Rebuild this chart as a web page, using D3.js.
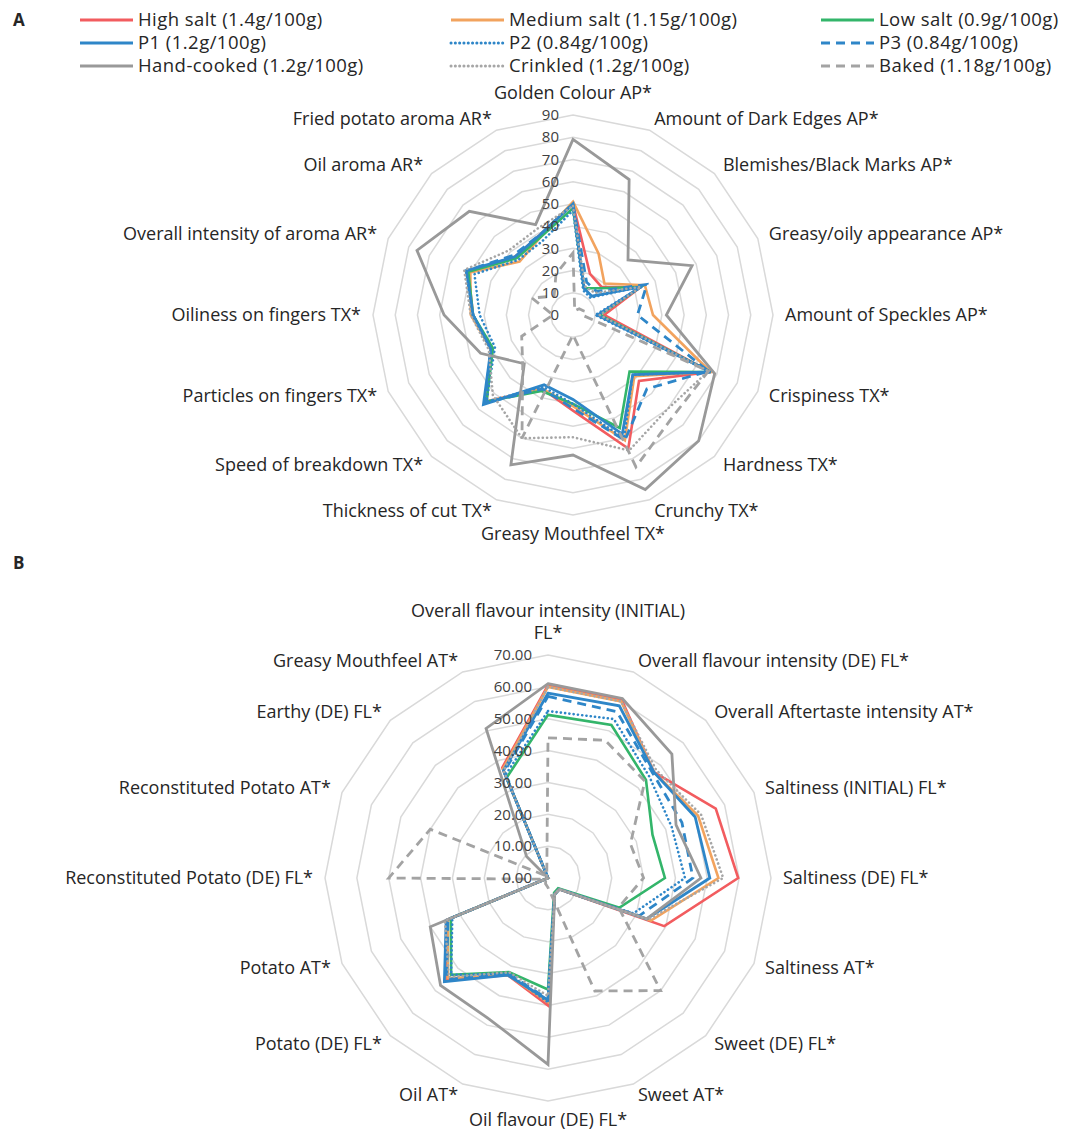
<!DOCTYPE html>
<html>
<head>
<meta charset="utf-8">
<script src="https://cdn.jsdelivr.net/npm/d3@7/dist/d3.min.js"></script>
<style>
  html, body { margin: 0; padding: 0; background: #fff; }
  svg { display: block; font-family: "Open Sans", "Noto Sans", sans-serif; }
</style>
</head>
<body>
<svg id="chart" width="1077" height="1131"></svg>
<script>
// ---- Panel A: appearance, texture and aroma attributes ----
const attributesA = [
  "Golden Colour AP*", "Amount of Dark Edges AP*", "Blemishes/Black Marks AP*",
  "Greasy/oily appearance AP*", "Amount of Speckles AP*", "Crispiness TX*",
  "Hardness TX*", "Crunchy TX*", "Greasy Mouthfeel TX*", "Thickness of cut TX*",
  "Speed of breakdown TX*", "Particles on fingers TX*", "Oiliness on fingers TX*",
  "Overall intensity of aroma AR*", "Oil aroma AR*", "Fried potato aroma AR*"
];
const ticksA = [0, 10, 20, 30, 40, 50, 60, 70, 80, 90];

const highSaltA   = [50, 20, 18, 33, 14, 67, 42, 65, 43, 36, 55, 40, 45, 51, 37, 39];
const mediumSaltA = [51, 30, 20, 35, 36, 67, 39, 61, 41, 36, 55, 40, 46, 50, 34, 38];
const lowSaltA    = [48, 13, 17, 33, 12, 67, 36, 55, 40, 37, 55, 39, 45, 51, 36, 38];
const p1A         = [50, 13, 12, 33, 11, 67, 38, 58, 38, 34, 57, 40, 45, 52, 37, 39];
const p2A         = [47, 12, 11, 34, 10, 67, 38, 60, 40, 35, 55, 38, 42, 48, 35, 36];
const p3A         = [50, 16, 15, 36, 29, 66, 47, 61, 42, 36, 56, 40, 45, 52, 38, 39];
const handCookedA = [79, 66, 35, 58, 42, 69, 80, 85, 63, 73, 31, 45, 58, 76, 66, 44];
const crinkledA   = [49, 14, 14, 33, 12, 66, 60, 66, 55, 60, 51, 41, 46, 53, 41, 42];
const bakedA      = [28, 2, 4, 5, 4, 66, 64, 74, 9, 60, 32, 25, 9, 20, 12, 20];

// ---- Panel B: flavour and aftertaste attributes ----
const attributesB = [
  "Overall flavour intensity (INITIAL)\nFL*", "Overall flavour intensity (DE) FL*",
  "Overall Aftertaste intensity AT*", "Saltiness (INITIAL) FL*", "Saltiness (DE) FL*",
  "Saltiness AT*", "Sweet (DE) FL*", "Sweet AT*", "Oil flavour (DE) FL*", "Oil AT*",
  "Potato (DE) FL*", "Potato AT*", "Reconstituted Potato (DE) FL*",
  "Reconstituted Potato AT*", "Earthy (DE) FL*", "Greasy Mouthfeel AT*"
];
const ticksB = [0, 10, 20, 30, 40, 50, 60, 70];

const highSaltB   = [60.5, 60.5, 47, 57, 59.7, 39.5, 5, 5.5, 40, 33, 45, 34.5, 0, 0, 0, 37.5];
const mediumSaltB = [60, 60, 47, 51, 53.5, 35, 5, 5.5, 39, 33, 44.5, 34, 0, 0, 0, 37];
const lowSaltB    = [51.2, 52, 43.5, 35.5, 36.7, 24.3, 4.5, 5, 35, 32, 43, 33, 0, 0, 0, 34];
const p1B         = [58, 58.5, 47, 50, 50.8, 33.5, 5, 5.5, 38.3, 33, 46, 34.6, 0, 0, 0, 36.5];
const p2B         = [52.4, 54, 45, 42, 43, 29, 5, 5.5, 39, 32.5, 43, 32.5, 0, 0, 0, 35];
const p3B         = [57, 56.5, 46.5, 45.5, 45.5, 31, 5, 5.5, 38, 32.5, 45, 34, 0, 0, 0, 36];
const handCookedB = [61, 61, 55, 43.5, 48, 33.5, 5, 5.5, 58.5, 48, 47.7, 40, 0, 0, 9.5, 50.8];
const crinkledB   = [60, 60, 48, 52, 55, 34, 5, 5.5, 37, 32, 44, 35, 0, 0, 0, 36.5];
const bakedB      = [44, 46.8, 43, 28, 30, 24, 50, 38.4, 3, 2, 1, 1, 50, 40, 1, 1];

// ---- Series names (legend order) ----
const seriesNames = [
  "High salt (1.4g/100g)", "Medium salt (1.15g/100g)", "Low salt (0.9g/100g)",
  "P1 (1.2g/100g)", "P2 (0.84g/100g)", "P3 (0.84g/100g)",
  "Hand-cooked (1.2g/100g)", "Crinkled (1.2g/100g)", "Baked (1.18g/100g)"
];

// line styles per series
const styles = [
  { color: "#F25C5F", dash: null, width: 2.6, cap: "butt" },
  { color: "#F2A35E", dash: null, width: 2.6, cap: "butt" },
  { color: "#33B56A", dash: null, width: 2.6, cap: "butt" },
  { color: "#2E86C8", dash: null, width: 2.8, cap: "butt" },
  { color: "#2E86C8", dash: "0.1,4.2", width: 2.6, cap: "round" },
  { color: "#2E86C8", dash: "9,6", width: 2.8, cap: "butt" },
  { color: "#999999", dash: null, width: 2.8, cap: "butt" },
  { color: "#A6A6A6", dash: "0.1,4.2", width: 2.6, cap: "round" },
  { color: "#A3A3A3", dash: "9,6", width: 2.8, cap: "butt" }
];

const svg = d3.select("#chart");
const textColor = "#262626";

// ---- Legend ----
const legendCols = [80, 451, 821];
const legendRows = [20, 43, 66];
const legend = svg.append("g");
seriesNames.forEach((name, i) => {
  const x = legendCols[i % 3], y = legendRows[Math.floor(i / 3)];
  const st = styles[i];
  legend.append("line")
    .attr("x1", x).attr("x2", x + 53).attr("y1", y).attr("y2", y)
    .attr("stroke", st.color).attr("stroke-width", 3)
    .attr("stroke-dasharray", st.dash).attr("stroke-linecap", st.cap);
  legend.append("text")
    .attr("x", x + 58).attr("y", y).attr("dy", "0.35em")
    .attr("font-size", 18.5).attr("letter-spacing", 0.45).attr("fill", textColor)
    .text(name);
});

// panel letters
svg.append("text").attr("x", 13).attr("y", 26).attr("font-size", 17)
  .attr("font-weight", "bold").attr("fill", textColor).text("A");
svg.append("text").attr("x", 13).attr("y", 569).attr("font-size", 17)
  .attr("font-weight", "bold").attr("fill", textColor).text("B");

function radar(opts) {
  const { cx, cy, radius, max, ticks, axes, series, tickFmt, tickOffset } = opts;
  const n = axes.length;
  const g = svg.append("g").attr("transform", `translate(${cx},${cy})`);
  const r = d3.scaleLinear().domain([0, max]).range([0, radius]);
  const angle = i => (i / n) * 2 * Math.PI;

  // polygon gridlines
  const ring = d3.lineRadial().angle((d, i) => angle(i)).radius(d => r(d))
    .curve(d3.curveLinearClosed);
  ticks.filter(t => t > 0).forEach(t => {
    g.append("path").attr("d", ring(d3.range(n).map(() => t)))
      .attr("fill", "none").attr("stroke", "#D9D9D9").attr("stroke-width", 1.5);
  });

  // series lines
  const line = d3.lineRadial().angle((d, i) => angle(i)).radius(d => r(d))
    .curve(d3.curveLinearClosed);
  series.forEach((vals, i) => {
    const st = styles[i];
    g.append("path").attr("d", line(vals))
      .attr("fill", "none").attr("stroke", st.color)
      .attr("stroke-width", st.width)
      .attr("stroke-dasharray", st.dash)
      .attr("stroke-linecap", st.cap)
      .attr("stroke-linejoin", "miter");
  });

  // tick labels
  ticks.forEach(t => {
    g.append("text").attr("x", -tickOffset).attr("y", -r(t)).attr("dy", "0.35em")
      .attr("text-anchor", "end").attr("font-size", 15).attr("fill", "#404040")
      .text(tickFmt(t));
  });

  // category labels (multi-line labels become stacked text rows)
  axes.forEach((label, i) => {
    const a = angle(i);
    const rr = radius + 12;
    const x = rr * Math.sin(a), y = -rr * Math.cos(a);
    const s = Math.sin(a), c = Math.cos(a);
    const anchor = Math.abs(s) < 0.01 ? "middle" : (s > 0 ? "start" : "end");
    const lines = label.split("\n");
    const lh = 22;
    let y0;
    if (c > 0.99) y0 = y - (lines.length - 1) * lh - 4;
    else if (c < -0.99) y0 = y + 13;
    else y0 = y + 6;
    lines.forEach((ln, k) => {
      g.append("text").attr("text-anchor", anchor)
        .attr("font-size", 18).attr("fill", textColor)
        .attr("x", x).attr("y", y0 + k * lh).text(ln);
    });
  });
}

radar({
  cx: 573, cy: 315, radius: 200, max: 90, ticks: ticksA, axes: attributesA,
  series: [highSaltA, mediumSaltA, lowSaltA, p1A, p2A, p3A, handCookedA, crinkledA, bakedA],
  tickFmt: d => d3.format("d")(d), tickOffset: 14
});

radar({
  cx: 548, cy: 878, radius: 223, max: 70, ticks: ticksB, axes: attributesB,
  series: [highSaltB, mediumSaltB, lowSaltB, p1B, p2B, p3B, handCookedB, crinkledB, bakedB],
  tickFmt: d => d3.format(".2f")(d), tickOffset: 16
});
</script>
</body>
</html>
